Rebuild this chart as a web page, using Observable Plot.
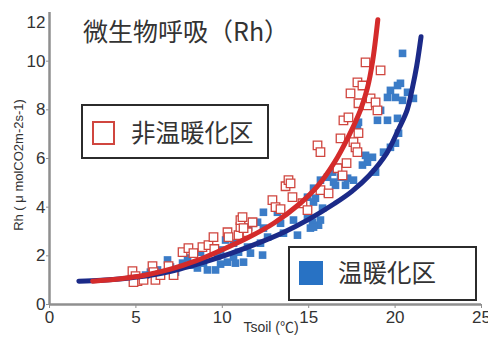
<!DOCTYPE html>
<html>
<head>
<meta charset="utf-8">
<script src="https://cdn.jsdelivr.net/npm/d3@7"></script>
<script src="https://cdn.jsdelivr.net/npm/@observablehq/plot@0.6"></script>
<style>
  html, body { margin: 0; padding: 0; background: #fff; }
  #wrap { position: relative; width: 488px; height: 338px; }
</style>
</head>
<body>
<div id="wrap"></div>
<script>
// ---- data ----
const titleText = "微生物呼吸（Rh）";
const xLabel = "Tsoil (℃)";
const yLabel = "Rh ( μ molCO2m-2s-1)";
const legendCtrl = "非温暖化区";
const legendWarm = "温暖化区";
const xTicks = [0, 5, 10, 15, 20, 25];
const yTicks = [0, 2, 4, 6, 8, 10];
const yTopTick = [12];

// non-warmed plots (hollow red squares)
const ctrlT  = [4.80,4.98,5.09,5.44,4.86,5.96,6.02,6.13,6.42,6.89,7.18,7.70,8.04,8.33,8.85,9.20,9.49,9.54,10.30,10.36,10.94,11.05,11.05,11.46,11.23,11.75,11.17,12.90,13.08,13.37,13.66,13.83,13.95,14.06,14.64,14.93,15.51,15.68,15.68,16.15,16.67,16.96,17.19,16.84,17.01,17.30,17.59,17.71,17.82,17.88,17.42,17.82,18.11,17.88,18.40,18.58,18.87,18.98,18.29,19.16];
const ctrlRh = [1.37,1.17,0.96,1.01,0.92,1.58,1.33,1.01,1.21,1.58,1.21,2.15,2.32,2.11,2.36,2.44,2.77,2.28,2.97,2.77,2.85,3.18,3.47,2.97,3.14,3.38,3.59,4.29,4.00,3.92,4.86,5.11,4.98,4.41,4.16,3.88,6.54,6.26,4.70,4.57,5.60,5.31,5.81,6.83,7.57,7.69,6.67,6.46,6.26,7.04,8.68,9.13,9.00,8.27,8.18,8.47,8.31,7.98,9.95,9.62];

// warmed plots (filled blue squares)
const warmT  = [5.56,5.84,6.25,6.42,6.83,7.00,7.29,7.70,7.99,8.28,8.56,8.74,8.91,9.14,9.61,9.72,9.90,9.90,10.30,10.65,10.65,10.19,10.76,10.94,11.23,11.46,11.52,11.63,12.04,12.21,12.33,12.38,12.38,12.62,13.19,13.37,13.54,14.12,14.35,14.93,15.10,15.39,15.28,15.80,15.57,17.82,17.88,18.98,19.16,20.14,20.20,19.73,19.33,20.02,18.29,18.69,18.40,18.11,18.87,16.67,16.38,16.84,17.25,17.59,16.44,16.09,15.68,16.55,17.13,16.09,14.93,15.28,14.93,15.22,15.68,15.28,20.43,20.14,20.31,19.73,20.02,20.72,21.06,19.56,20.43,19.56];
const warmRh = [1.21,1.33,1.42,1.29,1.83,1.54,1.33,1.70,1.91,1.62,1.50,2.15,1.70,1.42,1.42,1.99,1.66,2.24,1.74,1.95,2.52,2.65,1.70,2.15,1.74,2.36,3.18,2.11,3.38,2.52,2.03,3.79,3.14,2.77,3.79,3.34,2.93,3.47,2.85,3.55,3.14,4.37,4.78,3.96,3.26,7.24,7.49,7.57,7.98,7.65,7.04,6.46,6.26,6.63,6.13,6.05,5.85,5.73,5.44,5.64,5.44,5.23,5.19,5.11,5.03,5.23,5.11,4.90,4.90,4.57,4.41,4.21,3.88,3.38,3.47,3.18,10.32,9.00,9.09,8.80,8.51,8.72,8.47,8.51,8.39,7.57];

// fitted curves
const ctrlFitT  = [2.5,4.0,5.5,7.0,8.5,10.0,11.5,13.0,14.5,15.5,16.5,17.3,18.0,18.4,18.7,19.0];
const ctrlFitRh = [0.96,1.05,1.2,1.45,1.8,2.25,2.75,3.35,4.15,4.85,5.85,6.9,8.0,8.9,10.0,11.7];
const warmFitT  = [1.7,3.0,4.5,6.0,7.5,9.0,10.5,12.0,13.5,15.0,16.5,17.5,18.5,19.5,20.2,20.7,21.0,21.25,21.5];
const warmFitRh = [0.96,1.0,1.08,1.22,1.45,1.75,2.1,2.5,2.95,3.5,4.15,4.65,5.3,6.2,7.2,8.0,8.9,9.8,11.0];

// ---- colours ----
const redPt = "#d0463f", bluePt = "#3b7cc7", redLine = "#d42b2b", blueLine = "#1b2a88";
const axisGray = "#8f8f8f", textDark = "#333";
const latin = "'Liberation Sans', Arial, 'Noto Sans CJK JP', sans-serif";
const cjk = "'Noto Sans CJK JP', 'Liberation Sans', sans-serif";

const zip = (a, b) => a.map((t, i) => ({t, rh: b[i]}));
const ctrl = zip(ctrlT, ctrlRh), warm = zip(warmT, warmRh);
const ctrlFit = zip(ctrlFitT, ctrlFitRh), warmFit = zip(warmFitT, warmFitRh);

const chart = Plot.plot({
  width: 488, height: 338,
  marginLeft: 49, marginRight: 7, marginTop: 12, marginBottom: 34,
  x: {domain: [0, 25]},
  y: {domain: [0, 12]},
  style: {fontFamily: latin, fontSize: "17px", color: textDark, background: "white"},
  marks: [
    Plot.axisX(xTicks, {tickSize: 4, tickPadding: 2, fontSize: 17, stroke: axisGray, fill: textDark, label: null}),
    Plot.axisY(yTicks, {tickSize: 3, tickPadding: 1, fontSize: 17, stroke: axisGray, fill: textDark, label: null}),
    Plot.axisY(yTopTick, {tickSize: 0, tickPadding: 4, dy: 10, fontSize: 17, fill: textDark, label: null}),
    Plot.dot(warm, {x: "t", y: "rh", symbol: "square", r: 4.3, fill: bluePt, stroke: "none"}),
    Plot.dot(ctrl, {x: "t", y: "rh", symbol: "square", r: 4.8, fill: "white", stroke: redPt, strokeWidth: 1.3}),
    Plot.line(warmFit, {x: "t", y: "rh", curve: "catmull-rom", stroke: blueLine, strokeWidth: 5}),
    Plot.line(ctrlFit, {x: "t", y: "rh", curve: "catmull-rom", stroke: redLine, strokeWidth: 5}),
    Plot.ruleX([0], {stroke: axisGray, strokeWidth: 2.5}),
    Plot.ruleY([0], {stroke: axisGray, strokeWidth: 2.5})
  ]
});
document.getElementById("wrap").appendChild(chart);

// ---- title, axis labels, legends drawn as SVG text over the plot ----
const svg = d3.select(chart);
svg.append("text").attr("x", 83).attr("y", 41).attr("text-anchor", "start")
  .attr("font-family", cjk).attr("font-size", 25).attr("fill", textDark).text(titleText);
svg.append("text").attr("x", 271).attr("y", 332).attr("text-anchor", "middle")
  .attr("font-family", latin).attr("font-size", 14).attr("fill", textDark).text(xLabel);
svg.append("text").attr("transform", "translate(23,165) rotate(-90)").attr("text-anchor", "middle")
  .attr("font-family", latin).attr("font-size", 13).attr("fill", textDark).text(yLabel);

// legend: non-warmed
const g1 = svg.append("g");
g1.append("rect").attr("x", 82).attr("y", 105).attr("width", 186).attr("height", 53)
  .attr("fill", "white").attr("stroke", "#2b2b2b").attr("stroke-width", 2);
g1.append("rect").attr("x", 93).attr("y", 122).attr("width", 21).attr("height", 22)
  .attr("fill", "white").attr("stroke", redPt).attr("stroke-width", 2);
g1.append("text").attr("x", 131).attr("y", 142).attr("text-anchor", "start")
  .attr("font-family", cjk).attr("font-size", 24.5).attr("fill", textDark).text(legendCtrl);

// legend: warmed
const g2 = svg.append("g");
g2.append("rect").attr("x", 289).attr("y", 247).attr("width", 187).attr("height", 53)
  .attr("fill", "white").attr("stroke", "#2b2b2b").attr("stroke-width", 2);
g2.append("rect").attr("x", 299).attr("y", 261).attr("width", 24).attr("height", 24)
  .attr("fill", "#2872c4");
g2.append("text").attr("x", 338).attr("y", 282).attr("text-anchor", "start")
  .attr("font-family", cjk).attr("font-size", 24.5).attr("fill", textDark).text(legendWarm);
</script>
</body>
</html>
